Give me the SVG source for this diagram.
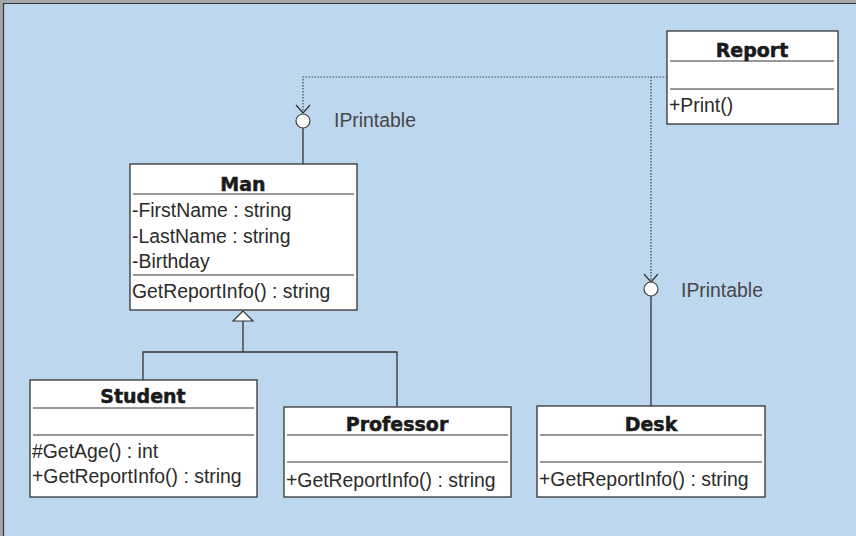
<svg xmlns="http://www.w3.org/2000/svg" width="856" height="536" viewBox="0 0 856 536">
  <defs>
    <style>
      .box { fill: #ffffff; stroke: #333333; stroke-width: 1.3; }
      .sep { stroke: #333333; stroke-width: 1.2; }
      .title { font-family: "DejaVu Sans", "Liberation Sans", sans-serif; font-weight: bold; font-size: 19px; fill: #1a1a1a; stroke: #1a1a1a; stroke-width: 0.5; text-anchor: middle; }
      .member { font-family: "Liberation Sans", Arial, sans-serif; font-size: 19.4px; fill: #2b2b2b; }
      .iface { font-family: "Liberation Sans", Arial, sans-serif; font-size: 19.4px; fill: #474747; }
      .dep { fill: none; stroke: #444444; stroke-width: 1.2; stroke-dasharray: 1.5 1.5; }
      .solid { fill: none; stroke: #333333; stroke-width: 1.3; }
      .lollipop { fill: #ffffff; stroke: #444444; stroke-width: 1.2; }
      .open-arrow { fill: none; stroke: #333333; stroke-width: 1.2; }
    </style>
  </defs>

  <!-- page background and frame -->
  <rect x="0" y="0" width="856" height="536" fill="#a6a6a6"/>
  <rect x="3" y="3" width="853" height="533" fill="#bdd7ef"/>
  <path d="M3.5 536 V3.5 H856" fill="none" stroke="#333333" stroke-width="1.2"/>

  <!-- connectors -->
  <g id="connectors">
    <!-- dependency from Report to the IPrintable interfaces -->
    <path class="dep" d="M667 77 H303 V112"/>
    <path class="dep" d="M651 77 V281"/>
    <path class="open-arrow" d="M296 105 L303 113 L310 105"/>
    <path class="open-arrow" d="M644 274 L651 282 L658 274"/>
    <!-- interface lollipops -->
    <line class="solid" x1="303" y1="128" x2="303" y2="189"/>
    <circle class="lollipop" cx="303" cy="121" r="7"/>
    <line class="solid" x1="651" y1="296" x2="651" y2="406"/>
    <circle class="lollipop" cx="651" cy="289" r="7"/>
    <text class="iface" x="334" y="127">IPrintable</text>
    <text class="iface" x="681" y="297">IPrintable</text>
    <!-- generalization to Man -->
    <path class="solid" d="M243 321 V352 M143 380 V352 H397 V406"/>
    <polygon points="243,311 233,321 253,321" fill="#ffffff" stroke="#333333" stroke-width="1.2"/>
  </g>

  <g id="report">
    <rect class="box" x="667" y="31" width="171" height="93"/>
    <line class="sep" x1="670" y1="61" x2="834" y2="61"/>
    <line class="sep" x1="670" y1="89" x2="834" y2="89"/>
    <text class="title" x="752" y="57">Report</text>
    <text class="member" x="669" y="112">+Print()</text>
  </g>

  <g id="man">
    <rect class="box" x="130" y="164" width="227" height="146"/>
    <line class="sep" x1="133" y1="194" x2="354" y2="194"/>
    <line class="sep" x1="133" y1="275" x2="354" y2="275"/>
    <text class="title" x="243" y="191">Man</text>
    <text class="member" x="132" y="217">-FirstName : string</text>
    <text class="member" x="132" y="243">-LastName : string</text>
    <text class="member" x="132" y="268">-Birthday</text>
    <text class="member" x="132" y="298">GetReportInfo() : string</text>
  </g>

  <g id="student">
    <rect class="box" x="30" y="380" width="227" height="117"/>
    <line class="sep" x1="33" y1="408" x2="254" y2="408"/>
    <line class="sep" x1="33" y1="435" x2="254" y2="435"/>
    <text class="title" x="143" y="403">Student</text>
    <text class="member" x="32" y="458">#GetAge() : int</text>
    <text class="member" x="32" y="483">+GetReportInfo() : string</text>
  </g>

  <g id="professor">
    <rect class="box" x="284" y="407" width="227" height="90"/>
    <line class="sep" x1="287" y1="435" x2="508" y2="435"/>
    <line class="sep" x1="287" y1="462" x2="508" y2="462"/>
    <text class="title" x="397" y="431">Professor</text>
    <text class="member" x="286" y="487">+GetReportInfo() : string</text>
  </g>

  <g id="desk">
    <rect class="box" x="537" y="406" width="228" height="91"/>
    <line class="sep" x1="540" y1="435" x2="762" y2="435"/>
    <line class="sep" x1="540" y1="462" x2="762" y2="462"/>
    <text class="title" x="651" y="431">Desk</text>
    <text class="member" x="539" y="486">+GetReportInfo() : string</text>
  </g>
</svg>
